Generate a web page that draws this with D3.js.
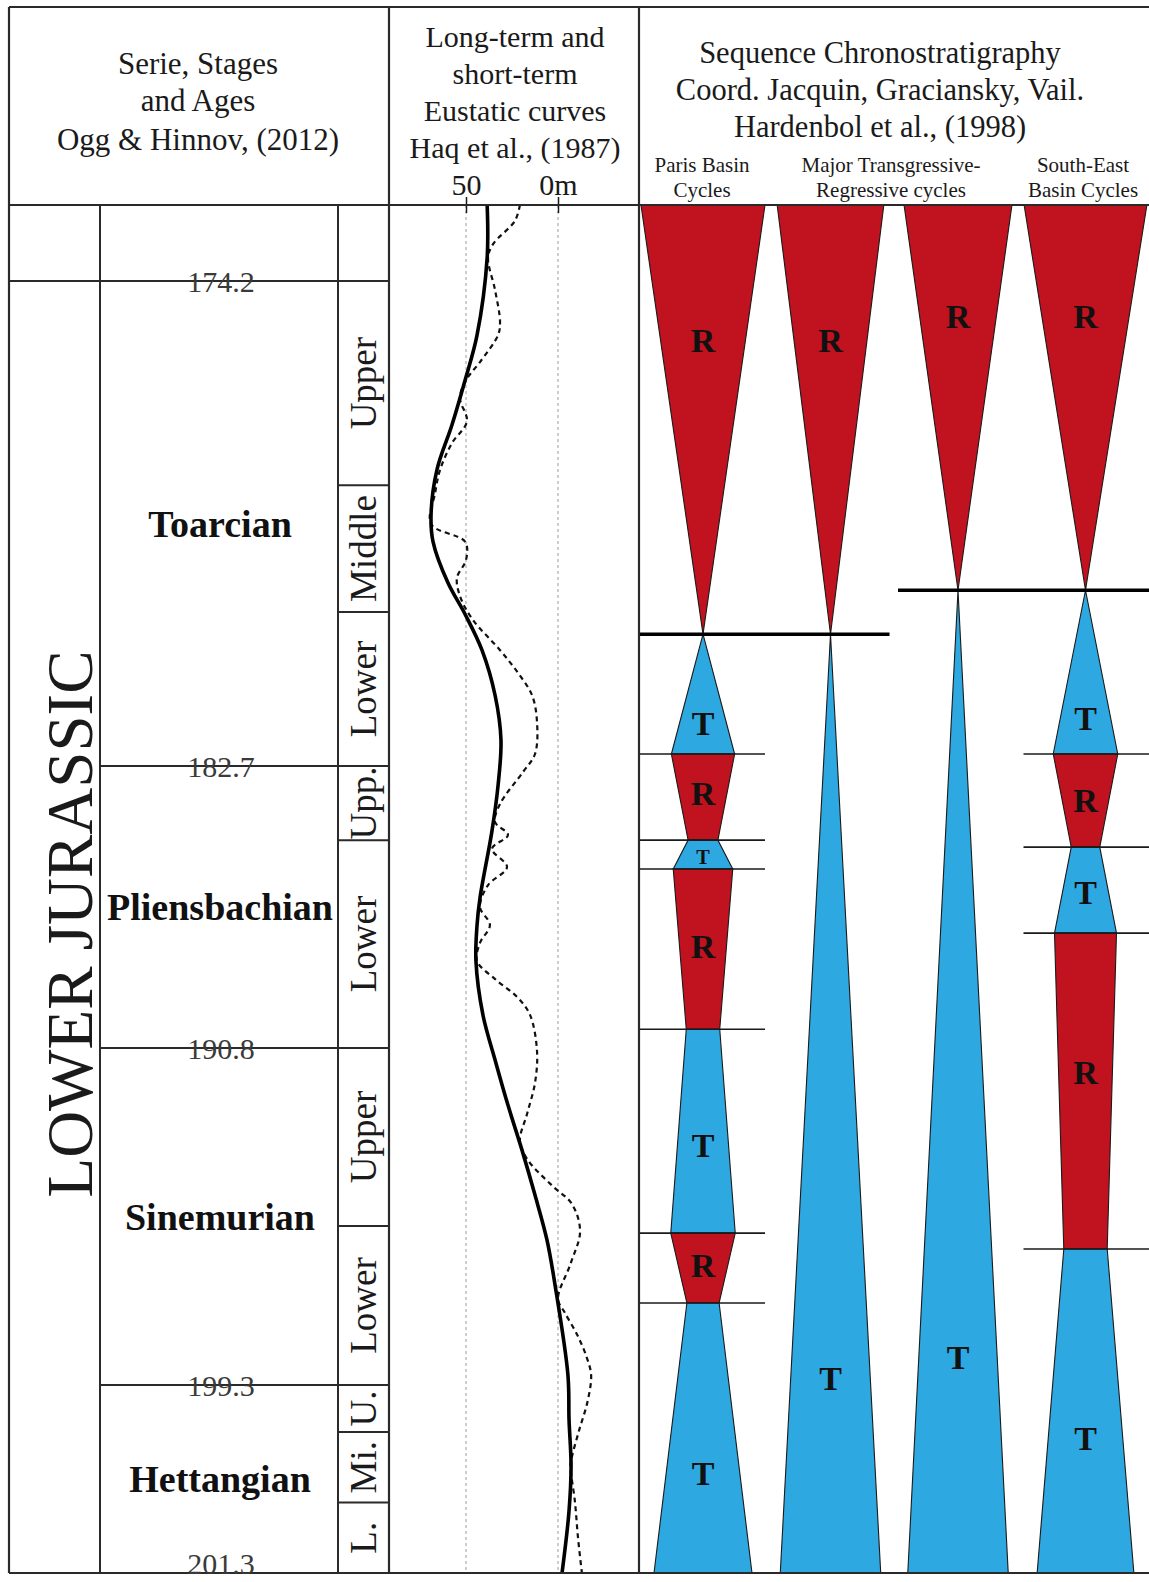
<!DOCTYPE html>
<html>
<head>
<meta charset="utf-8">
<script src="https://cdn.jsdelivr.net/npm/d3@7"></script>
<style>
  html, body { margin: 0; padding: 0; background: #fff; }
  svg { display: block; }
  text { font-family: "Liberation Serif", "Times New Roman", serif; }
</style>
</head>
<body>
<svg id="chart" width="1149" height="1582"></svg>
<script>
// ---- Chronostratigraphy (Ma) ----
const ageTop = 172.9;
const ageTicks = [174.2, 182.7, 190.8, 199.3, 201.3];
const seriesName = "LOWER JURASSIC";
const stageNames = ["Toarcian", "Pliensbachian", "Sinemurian", "Hettangian"];
const substageNames = ["Upper", "Middle", "Lower", "Upp.", "Lower", "Upper", "Lower", "U.", "Mi.", "L."];
const substageBounds = [174.2, 177.78, 180.0, 182.7, 184.83, 190.8, 195.29, 199.3, 199.8, 200.55, 201.3];

// ---- Eustatic curves (age Ma, sea level m) ----
const longTermAge = [172.9, 173.8, 175.15, 175.94, 176.72, 177.51, 178.3, 178.77, 179.49, 180.04, 180.67,
  181.46, 182.24, 183.27, 184.57, 186.49, 187.27, 188.3, 189.85, 191.1, 192.24, 193.37, 194.51, 195.64,
  196.78, 199.05, 199.67, 200.16, 200.64, 201.3];
const longTermSea = [38.5, 38.5, 44.0, 50.5, 57.6, 65.8, 69.0, 67.9, 59.8, 50.5, 41.3,
  34.2, 31.0, 32.6, 35.9, 42.4, 44.0, 44.6, 40.8, 34.2, 27.2, 19.6, 12.5, 6.0,
  1.6, -5.4, -6.0, -7.1, -6.0, -2.2];
const shortTermAge = [172.9, 173.17, 173.57, 173.8, 174.36, 174.92, 175.15, 175.62, 175.94, 176.25, 176.66,
  177.04, 177.51, 177.92, 178.46, 178.77, 179.09, 179.4, 179.72, 180.12, 180.67, 181.07, 181.46, 181.93,
  182.49, 182.87, 183.79, 184.31, 184.68, 185.08, 185.6, 186.12, 186.75, 187.27, 187.78, 188.3, 188.82,
  189.33, 189.85, 190.88, 191.68, 192.46, 193.15, 193.6, 194.28, 194.73, 195.42, 196.22, 197.13, 197.46,
  198.04, 198.59, 199.05, 199.48, 199.78, 200.07, 200.16, 200.54, 200.93, 201.3];
const shortTermSea = [20.7, 23.4, 35.3, 38.0, 34.2, 31.5, 32.6, 42.4, 50.0, 53.3, 49.5,
  57.6, 64.1, 66.8, 69.0, 50.5, 50.0, 54.9, 53.3, 46.7, 31.5, 21.7, 14.1, 11.4,
  12.5, 19.0, 31.5, 34.2, 27.2, 35.9, 27.7, 38.0, 42.4, 37.0, 42.4, 44.0, 34.2,
  22.3, 15.2, 11.4, 12.5, 16.8, 20.7, 16.8, 3.0, -7.5, -12.0, -7.0, 0.0, -3.5,
  -10.5, -15.5, -18.0, -16.0, -11.5, -7.5, -6.8, -9.2, -10.9, -13.0];
const seaTicks = [50, 0];

// ---- Transgressive / regressive cycles ----
const cycleColumns = ["Paris", "MajorA", "MajorB", "SouthEast"];
// boundaries (Ma), relative half-width at each boundary, cycle type and label age per segment
const parisBounds = [172.9, 180.39, 182.49, 184.83, 185.66, 190.26, 195.47, 197.23, 201.3];
const parisWidths = [1.0, 0, 0.51, 0.24, 0.48, 0.27, 0.52, 0.26, 0.79];
const parisTypes = ["R", "T", "R", "T", "R", "T", "R", "T"];
const parisLabelAges = [175.23, 181.95, 183.48, 185.3, 187.87, 193.24, 196.27, 200.24];

const majorABounds = [172.9, 180.39, 201.3];
const majorAWidths = [0.86, 0, 0.81];
const majorATypes = ["R", "T"];
const majorALabelAges = [175.23, 199.12];

const majorBBounds = [172.9, 179.62, 201.3];
const majorBWidths = [0.87, 0, 0.81];
const majorBTypes = ["R", "T"];
const majorBLabelAges = [174.81, 198.59];

const southEastBounds = [172.9, 179.62, 182.49, 185.03, 187.5, 195.87, 201.3];
const southEastWidths = [0.99, 0, 0.52, 0.23, 0.5, 0.35, 0.78];
const southEastTypes = ["R", "T", "R", "T", "R", "T"];
const southEastLabelAges = [174.81, 181.86, 183.68, 186.32, 191.41, 199.86];

// ---- Layout ----
const svg = d3.select("#chart");
const L = 9, R = 1149, TOP = 7, HEAD = 205, BOT = 1573;
const xStage = 100, xSub = 338, xCurve = 389, xSeq = 639;
const lineColor = "#2a2a2a";
const redFill = "#c1121f", blueFill = "#2ea8e0";

const y = d3.scaleLinear()
  .domain([ageTop, ...ageTicks])
  .range([HEAD, 281, 766, 1048, 1385, BOT]);

const seaX = d3.scaleLinear().domain([50, 0]).range([466, 558]);
const colX = d3.scalePoint().domain(cycleColumns).range([703, 1085.5]);
const halfW = d3.scaleLinear().domain([0, 1]).range([0, 62]);

function hline(g, x1, x2, yy, w, color) {
  g.append("line").attr("x1", x1).attr("x2", x2).attr("y1", yy).attr("y2", yy)
    .attr("stroke", color || lineColor).attr("stroke-width", w || 2);
}
function vline(g, xx, y1, y2, w) {
  g.append("line").attr("x1", xx).attr("x2", xx).attr("y1", y1).attr("y2", y2)
    .attr("stroke", lineColor).attr("stroke-width", w || 2);
}

// ---- Headers ----
const head = svg.append("g").attr("fill", "#1a1a1a");
function headLines(lines, cx, baselines, size) {
  lines.forEach((t, i) => head.append("text")
    .attr("x", cx).attr("y", baselines[i]).attr("text-anchor", "middle")
    .attr("font-size", size).text(t));
}
headLines(["Serie, Stages", "and Ages", "Ogg & Hinnov, (2012)"], 198, [74, 111, 150], 31);
headLines(["Long-term and", "short-term", "Eustatic curves", "Haq et al., (1987)"], 515, [47, 84, 121, 158], 30);
headLines(["Sequence Chronostratigraphy", "Coord. Jacquin, Graciansky, Vail.", "Hardenbol et al., (1998)"], 880, [63, 100, 137], 30.5);
headLines(["Paris Basin", "Cycles"], 702, [172, 197], 21);
headLines(["Major Transgressive-", "Regressive cycles"], 891, [172, 197], 21);
headLines(["South-East", "Basin Cycles"], 1083, [172, 197], 21);

// ---- Cycle polygons ----
const cycles = svg.append("g");
function drawColumn(name, bounds, widths, types, labelAges) {
  const cx = colX(name);
  types.forEach((t, i) => {
    const a = bounds[i], b = bounds[i + 1];
    const pts = [
      [cx - halfW(widths[i]), y(a)], [cx + halfW(widths[i]), y(a)],
      [cx + halfW(widths[i + 1]), y(b)], [cx - halfW(widths[i + 1]), y(b)]
    ];
    cycles.append("path")
      .attr("d", d3.line()(pts) + "Z")
      .attr("fill", t === "R" ? redFill : blueFill)
      .attr("stroke", "#1a1a1a").attr("stroke-width", 1.1)
      .attr("stroke-linejoin", "miter");
    const segH = y(b) - y(a);
    const fs = Math.min(34, segH * 0.7);
    cycles.append("text")
      .attr("x", cx).attr("y", y(labelAges[i])).attr("dy", "0.35em")
      .attr("text-anchor", "middle").attr("font-weight", "bold")
      .attr("font-size", fs).attr("fill", "#111").text(t);
  });
}
drawColumn("Paris", parisBounds, parisWidths, parisTypes, parisLabelAges);
drawColumn("MajorA", majorABounds, majorAWidths, majorATypes, majorALabelAges);
drawColumn("MajorB", majorBBounds, majorBWidths, majorBTypes, majorBLabelAges);
drawColumn("SouthEast", southEastBounds, southEastWidths, southEastTypes, southEastLabelAges);

// thin cycle boundaries
const bnd = svg.append("g");
parisBounds.slice(2, -1).forEach(a => hline(bnd, xSeq + 1, colX("Paris") + 62, y(a), 1.6, "#1a1a1a"));
southEastBounds.slice(2, -1).forEach(a => hline(bnd, colX("SouthEast") - 62, R, y(a), 1.6, "#1a1a1a"));
// maximum flooding surfaces
hline(bnd, xSeq + 1, colX("MajorA") + 59, y(parisBounds[1]), 3.5, "#000");
hline(bnd, colX("MajorB") - 60, R, y(majorBBounds[1]), 3.5, "#000");

// ---- Eustatic curves ----
const curveG = svg.append("g");
curveG.append("clipPath").attr("id", "curveClip").append("rect")
  .attr("x", xCurve).attr("y", HEAD).attr("width", xSeq - xCurve).attr("height", BOT - HEAD);
seaTicks.forEach(v => curveG.append("line")
  .attr("x1", seaX(v)).attr("x2", seaX(v)).attr("y1", HEAD).attr("y2", BOT)
  .attr("stroke", "#b9b9b9").attr("stroke-width", 1.4).attr("stroke-dasharray", "3,3"));

const curveLine = d3.line()
  .x(d => seaX(d[1])).y(d => y(d[0]))
  .curve(d3.curveCatmullRom.alpha(0.5));
curveG.append("path")
  .datum(shortTermAge.map((a, i) => [a, shortTermSea[i]]))
  .attr("d", curveLine).attr("clip-path", "url(#curveClip)")
  .attr("fill", "none").attr("stroke", "#111").attr("stroke-width", 2.2)
  .attr("stroke-dasharray", "5,4");
curveG.append("path")
  .datum(longTermAge.map((a, i) => [a, longTermSea[i]]))
  .attr("d", curveLine).attr("clip-path", "url(#curveClip)")
  .attr("fill", "none").attr("stroke", "#000").attr("stroke-width", 3.6);

const axis = d3.axisTop(seaX).tickValues(seaTicks)
  .tickFormat(d => d === 0 ? "0m" : String(d)).tickSizeInner(8).tickSizeOuter(0).tickPadding(2);
const axG = svg.append("g").attr("transform", `translate(0,${HEAD})`).call(axis);
axG.select(".domain").remove();
axG.selectAll(".tick line").attr("y1", 8).attr("stroke", "#1a1a1a").attr("stroke-width", 1.5);
axG.selectAll(".tick text").attr("font-size", 30).attr("fill", "#1a1a1a")
  .attr("font-family", "Liberation Serif, Times New Roman, serif");

// ---- Frame ----
const fr = svg.append("g");
hline(fr, L, R, TOP, 2.2);
hline(fr, L, R, HEAD, 2.2);
hline(fr, L, R, BOT, 2.2);
vline(fr, L, TOP, BOT, 2.2);
vline(fr, xCurve, TOP, BOT, 2.2);
vline(fr, xSeq, TOP, BOT, 2.2);
vline(fr, xStage, HEAD, BOT, 2);
vline(fr, xSub, HEAD, BOT, 2);
hline(fr, L, xCurve, y(ageTicks[0]), 2);
ageTicks.slice(1, -1).forEach(a => hline(fr, xStage, xCurve, y(a), 2));
substageBounds.slice(1, -1).forEach(a => hline(fr, xSub, xCurve, y(a), 2));

// ---- Stratigraphic labels ----
const lab = svg.append("g");
lab.append("text")
  .attr("transform", `translate(69,${(y(ageTicks[0]) + y(ageTicks[4])) / 2 - 3}) rotate(-90)`)
  .attr("text-anchor", "middle").attr("dy", "0.35em")
  .attr("font-size", 65).attr("fill", "#1a1a1a").text(seriesName);

stageNames.forEach((n, i) => lab.append("text")
  .attr("x", (xStage + xSub) / 2 + 1).attr("y", (y(ageTicks[i]) + y(ageTicks[i + 1])) / 2)
  .attr("dy", "0.35em").attr("text-anchor", "middle")
  .attr("font-weight", "bold").attr("font-size", 38).attr("fill", "#111").text(n));

// age labels sit on their boundary line; the base one is lifted to stay inside the page
ageTicks.forEach((a, i) => lab.append("text")
  .attr("x", (xStage + xSub) / 2 + 2)
  .attr("y", i === ageTicks.length - 1 ? y(a) - 10 : y(a)).attr("dy", "0.36em")
  .attr("text-anchor", "middle").attr("font-size", 30).attr("fill", "#3a3a3a")
  .text(a.toFixed(1)));

substageNames.forEach((n, i) => {
  const cy = (y(substageBounds[i]) + y(substageBounds[i + 1])) / 2;
  lab.append("text")
    .attr("transform", `translate(${(xSub + xCurve) / 2},${cy}) rotate(-90)`)
    .attr("text-anchor", "middle").attr("dy", "0.33em")
    .attr("font-size", 37).attr("fill", "#1a1a1a").text(n);
});
</script>
</body>
</html>
